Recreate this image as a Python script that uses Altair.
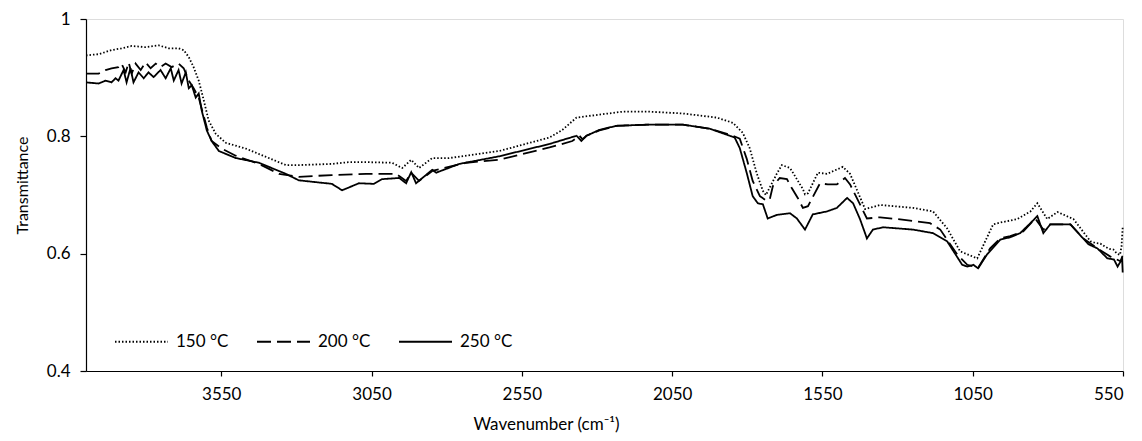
import altair as alt
import pandas as pd

series_names = ["150 °C", "200 °C", "250 °C"]
x_ticks = [3550, 3050, 2550, 2050, 1550, 1050, 550]
y_ticks = [0.4, 0.6, 0.8, 1.0]

wn_150 = [4000, 3958, 3915, 3882, 3848, 3802, 3758, 3725, 3692, 3675, 3658, 3642, 3625, 3608,
          3592, 3568, 3535, 3468, 3392, 3335, 3292, 3182, 3125, 3068, 2982, 2948, 2918, 2892,
          2848, 2792, 2625, 2458, 2415, 2368, 2292, 2215, 2125, 2015, 1902, 1848, 1815, 1792,
          1768, 1748, 1738, 1702, 1685, 1658, 1648, 1615, 1608, 1598, 1565, 1535, 1482, 1458,
          1408, 1358, 1248, 1182, 1135, 1092, 1035, 982, 958, 902, 858, 835, 802, 768, 715,
          658, 640, 625, 610, 595, 582, 570, 560, 555, 551]
t_150 = [0.938, 0.940, 0.947, 0.950, 0.954, 0.952, 0.955, 0.950, 0.950, 0.947, 0.935, 0.918, 0.895, 0.861,
         0.827, 0.804, 0.789, 0.779, 0.763, 0.751, 0.751, 0.753, 0.756, 0.756, 0.755, 0.746, 0.760, 0.746,
         0.763, 0.763, 0.775, 0.798, 0.811, 0.832, 0.837, 0.842, 0.842, 0.839, 0.832, 0.823, 0.806, 0.780,
         0.736, 0.707, 0.700, 0.736, 0.751, 0.746, 0.738, 0.710, 0.701, 0.703, 0.738, 0.736, 0.748, 0.736,
         0.676, 0.683, 0.678, 0.672, 0.643, 0.604, 0.592, 0.650, 0.653, 0.659, 0.672, 0.686, 0.659, 0.671, 0.659,
         0.621, 0.618, 0.617, 0.612, 0.608, 0.607, 0.600, 0.598, 0.612, 0.645]

wn_200 = [4000, 3958, 3935, 3915, 3892, 3882, 3868, 3858, 3848, 3835, 3818, 3802, 3785, 3768,
          3752, 3735, 3715, 3692, 3675, 3658, 3642, 3625, 3615, 3598, 3582, 3548, 3502, 3425,
          3358, 3292, 3182, 3068, 2968, 2935, 2918, 2892, 2848, 2735, 2625, 2458, 2382, 2358,
          2348, 2335, 2292, 2235, 2125, 2015, 1925, 1848, 1825, 1802, 1782, 1758, 1735, 1725,
          1715, 1692, 1668, 1652, 1632, 1615, 1598, 1558, 1532, 1502, 1475, 1458, 1425, 1402,
          1358, 1302, 1192, 1158, 1102, 1068, 1032, 992, 958, 925, 882, 842, 815, 792, 725,
          682, 635, 592, 558, 552]
t_200 = [0.907, 0.907, 0.913, 0.916, 0.918, 0.924, 0.909, 0.926, 0.907, 0.924, 0.913, 0.926, 0.916, 0.924,
         0.918, 0.924, 0.918, 0.924, 0.916, 0.895, 0.882, 0.866, 0.847, 0.815, 0.792, 0.779, 0.767, 0.753,
         0.736, 0.731, 0.734, 0.736, 0.736, 0.724, 0.738, 0.724, 0.741, 0.755, 0.760, 0.781, 0.792, 0.801,
         0.795, 0.801, 0.810, 0.818, 0.820, 0.820, 0.813, 0.801, 0.796, 0.762, 0.724, 0.698, 0.690, 0.693,
         0.715, 0.729, 0.727, 0.712, 0.695, 0.678, 0.681, 0.720, 0.718, 0.718, 0.729, 0.718, 0.684, 0.660,
         0.662, 0.659, 0.652, 0.641, 0.599, 0.581, 0.576, 0.609, 0.626, 0.630, 0.638, 0.660, 0.641, 0.650, 0.650,
         0.626, 0.609, 0.595, 0.587, 0.596]

wn_250 = [4000, 3958, 3935, 3915, 3902, 3892, 3875, 3865, 3852, 3842, 3825, 3808, 3792, 3775,
          3752, 3735, 3718, 3708, 3692, 3682, 3668, 3658, 3648, 3635, 3625, 3615, 3598, 3582,
          3558, 3502, 3425, 3335, 3292, 3182, 3148, 3092, 3042, 3015, 2958, 2935, 2918, 2902,
          2848, 2835, 2758, 2625, 2458, 2368, 2352, 2335, 2292, 2235, 2125, 2015, 1925, 1842,
          1825, 1802, 1782, 1765, 1748, 1732, 1702, 1658, 1635, 1608, 1582, 1535, 1502, 1468,
          1448, 1425, 1402, 1382, 1348, 1248, 1182, 1135, 1085, 1068, 1048, 1032, 1002, 958,
          925, 892, 858, 835, 815, 792, 725, 665, 635, 602, 580, 568, 560, 553, 551]
t_250 = [0.892, 0.890, 0.895, 0.892, 0.899, 0.895, 0.913, 0.892, 0.916, 0.892, 0.909, 0.899, 0.909, 0.901,
         0.913, 0.899, 0.916, 0.895, 0.913, 0.890, 0.909, 0.882, 0.887, 0.866, 0.873, 0.844, 0.810, 0.792,
         0.775, 0.763, 0.755, 0.736, 0.725, 0.719, 0.708, 0.720, 0.719, 0.727, 0.729, 0.720, 0.739, 0.720,
         0.743, 0.738, 0.753, 0.766, 0.787, 0.801, 0.792, 0.801, 0.811, 0.818, 0.820, 0.820, 0.813, 0.798,
         0.780, 0.738, 0.698, 0.686, 0.684, 0.660, 0.666, 0.669, 0.660, 0.641, 0.667, 0.672, 0.678, 0.695,
         0.686, 0.659, 0.626, 0.641, 0.645, 0.641, 0.635, 0.621, 0.581, 0.578, 0.581, 0.575, 0.599, 0.624,
         0.628, 0.635, 0.652, 0.664, 0.635, 0.650, 0.650, 0.616, 0.609, 0.592, 0.590, 0.578, 0.585, 0.592, 0.568]

rows = []
for name, wn, tr in zip(series_names, [wn_150, wn_200, wn_250], [t_150, t_200, t_250]):
    for w, v in zip(wn, tr):
        rows.append({"Series": name, "Wavenumber": w, "Transmittance": v})
df = pd.DataFrame(rows)

FONT = "Lato"

chart = alt.Chart(df).mark_line(color="black", strokeWidth=1.8).encode(
    x=alt.X(
        "Wavenumber:Q",
        scale=alt.Scale(domain=[550, 4000], reverse=True, nice=False, zero=False),
        axis=alt.Axis(
            values=x_ticks, format="d", title="Wavenumber (cm⁻¹)",
            grid=False, domainColor="black", domainWidth=1.2, tickColor="black", tickSize=5,
            tickWidth=1.2, labelFont=FONT, labelFontSize=17, labelColor="black", labelPadding=10,
            titleFont=FONT, titleFontSize=17, titleFontWeight="normal", titleColor="black",
            titleX=460, titleY=53, titleAlign="center", titleBaseline="middle",
        ),
    ),
    y=alt.Y(
        "Transmittance:Q",
        scale=alt.Scale(domain=[0.4, 1.0], nice=False, zero=False),
        axis=alt.Axis(
            values=y_ticks, format=".1~f", title="Transmittance",
            grid=False, domainColor="black", domainWidth=1.2, tickColor="black", tickSize=6,
            tickWidth=1.2, labelFont=FONT, labelFontSize=17, labelColor="black", labelPadding=10,
            titleFont=FONT, titleFontSize=16, titleFontWeight="normal", titleColor="black",
            titleX=-64, titleY=166, titleAlign="center", titleBaseline="middle", titleAngle=270,
        ),
    ),
    strokeDash=alt.StrokeDash(
        "Series:N",
        scale=alt.Scale(domain=series_names, range=[[1.5, 2], [14, 6], [1, 0]]),
        legend=alt.Legend(
            orient="none", legendX=28, legendY=295, direction="horizontal", title=None,
            symbolType="stroke", symbolSize=2809, symbolStrokeWidth=1.8, symbolStrokeColor="black",
            labelFont=FONT, labelFontSize=17, labelColor="black", labelOffset=7,
            columnPadding=24, padding=0,
        ),
    ),
).properties(
    width=1037,
    height=352,
    autosize=alt.AutoSizeParams(type="none"),
    padding={"left": 78, "top": 11, "right": 2, "bottom": 62},
).configure_view(stroke=None).configure(background="white")

chart.save("out.html", embed_options={"renderer": "svg", "actions": False})
